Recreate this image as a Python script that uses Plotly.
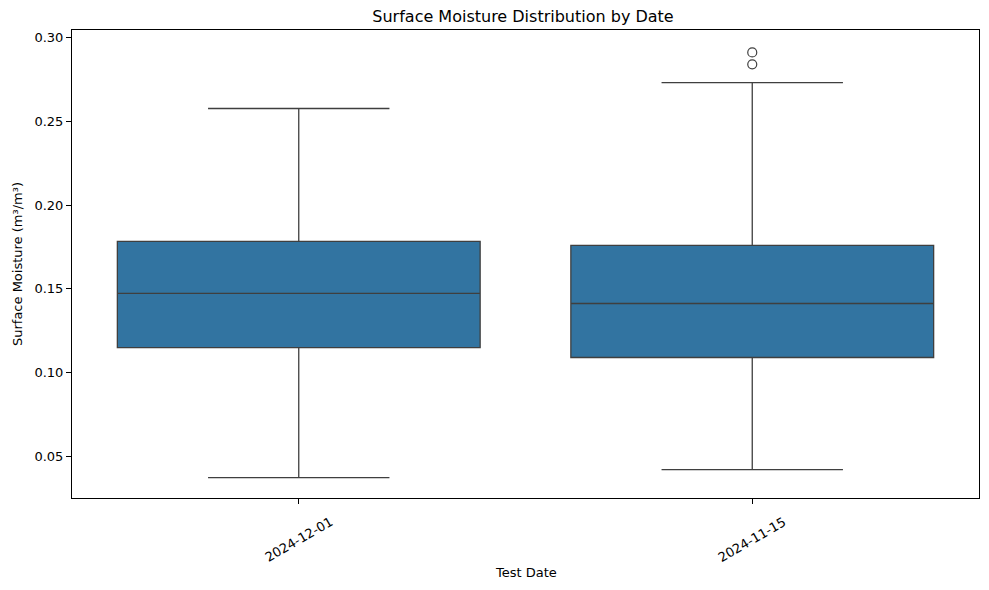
import plotly.graph_objects as go

dates = ["2024-12-01", "2024-11-15"]
lower_whisker = [0.0375, 0.0422]
q1_vals = [0.1150, 0.1091]
median_vals = [0.1473, 0.1413]
q3_vals = [0.1783, 0.1759]
upper_whisker = [0.2576, 0.2730]
outlier_dates = ["2024-11-15", "2024-11-15"]
outlier_vals = [0.2910, 0.2839]

W, H = 981, 582
ML, MR, MT, MB = 62, 9, 22, 92
plot_h = H - MT - MB

fig = go.Figure()
fig.add_trace(go.Box(
    x=dates, q1=q1_vals, median=median_vals, q3=q3_vals,
    lowerfence=lower_whisker, upperfence=upper_whisker,
    width=0.8, whiskerwidth=0.5,
    fillcolor="#3274a1", line=dict(color="#3f3f3f", width=1.3),
    boxpoints=False, showlegend=False, hoverinfo="y",
))
fig.add_trace(go.Scatter(
    x=outlier_dates, y=outlier_vals, mode="markers",
    marker=dict(symbol="circle-open", size=9, color="#3f3f3f", line=dict(width=1.2, color="#3f3f3f")),
    showlegend=False,
))

# rotated, centred tick labels (matplotlib style)
for d in dates:
    fig.add_annotation(x=d, xref="x", y=0, yref="paper", text=d, showarrow=False,
                       textangle=-30, xanchor="center", yanchor="top", yshift=-13,
                       font=dict(family="DejaVu Sans", size=13, color="black"))
fig.add_annotation(x=0.5, xref="paper", y=-74 / plot_h, yref="paper", text="Test Date",
                   showarrow=False, xanchor="center", yanchor="middle",
                   font=dict(family="DejaVu Sans", size=13, color="black"))

axis_common = dict(
    showline=True, linecolor="black", linewidth=1, mirror=True,
    ticks="outside", ticklen=5, tickcolor="black", tickwidth=1,
    showgrid=False, zeroline=False,
    tickfont=dict(family="DejaVu Sans", size=13, color="black"),
)
fig.update_layout(
    width=W, height=H,
    paper_bgcolor="white", plot_bgcolor="white",
    margin=dict(l=ML, r=MR, t=MT, b=MB),
    font=dict(family="DejaVu Sans", size=13, color="black"),
    title=dict(text="Surface Moisture Distribution by Date", x=(523 - 8) / W, xanchor="center",
               y=1 - 8 / H, yanchor="middle", font=dict(size=16, family="DejaVu Sans")),
    xaxis=dict(axis_common, type="category", categoryorder="array", categoryarray=dates,
               range=[-0.5, 1.5], showticklabels=False),
    yaxis=dict(axis_common, range=[0.0253, 0.3044], tickvals=[0.05, 0.10, 0.15, 0.20, 0.25, 0.30],
               tickformat=".2f",
               title=dict(text="Surface Moisture (m³/m³)", standoff=8, font=dict(size=13))),
)
fig.write_html("out.html")
